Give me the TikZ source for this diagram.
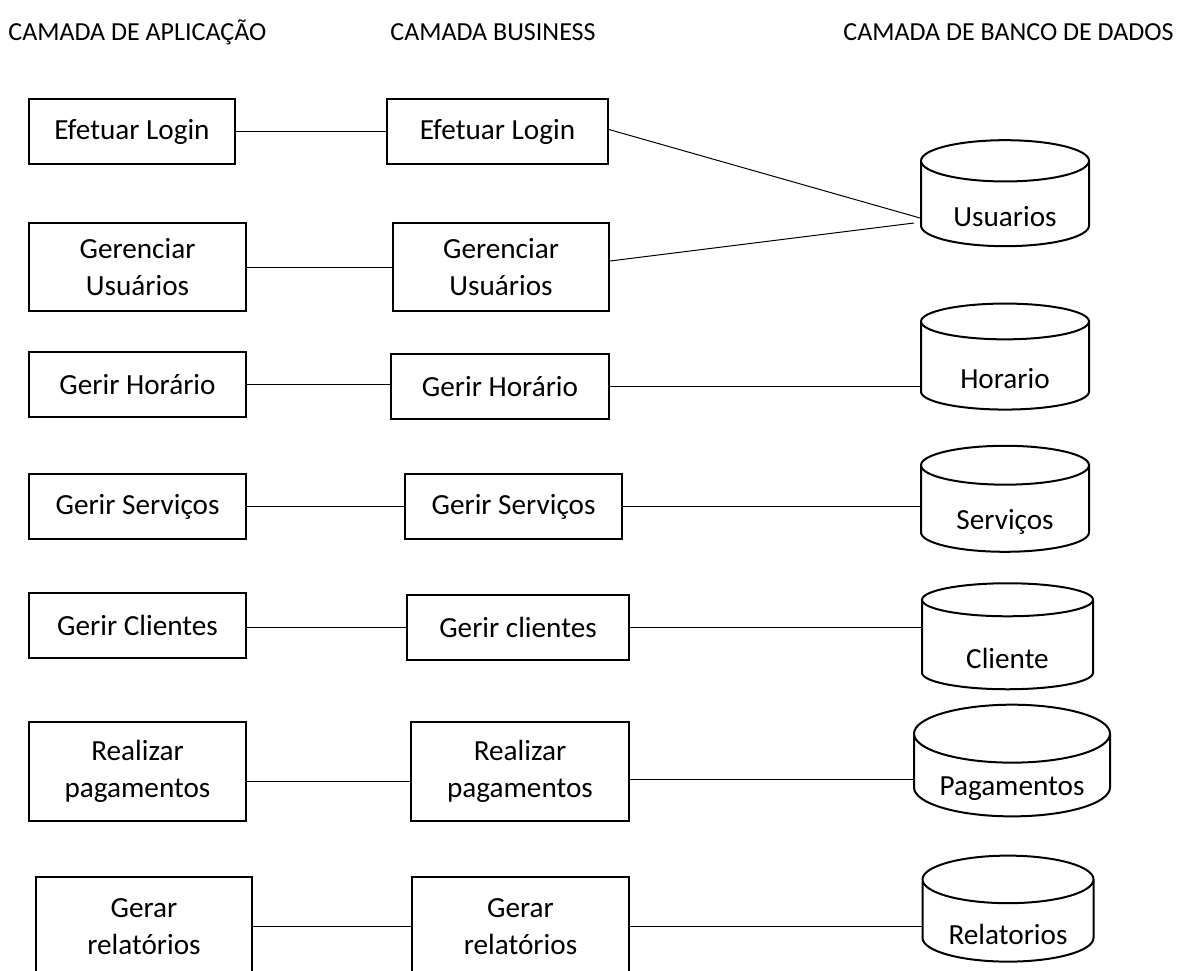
\documentclass[tikz,border=0pt]{standalone}
\usepackage{fontspec}
\setmainfont{Carlito}
\usetikzlibrary{shapes.geometric}

% texto do cilindro um pouco abaixo do centro
\newcommand{\dbtext}[1]{\raisebox{-6.5pt}[\height][\depth]{#1}}

\tikzset{
    layer/.style={anchor=west,inner sep=0pt,font=\fontsize{13}{15}\selectfont},
    funcbox/.style={draw,line width=1pt,rectangle,align=center,inner sep=0pt,
        font=\fontsize{14.6}{18.5}\selectfont},
    dbase/.style={draw,line width=1pt,cylinder,shape border rotate=90,aspect=0.4,
        inner sep=0pt,font=\fontsize{14.6}{18.5}\selectfont},
    conn/.style={line width=0.5pt}
}

\begin{document}
\begin{tikzpicture}[x=0.5pt,y=-0.5pt]
                \clip (0,0) rectangle (1186,970);
                % titulos das camadas
                \node[layer] (tapp) at (8,32) {CAMADA DE APLICAÇÃO};
                \node[layer] (tbiz) at (390,32) {CAMADA BUSINESS};
                \node[layer] (tdb) at (843,32) {CAMADA DE BANCO DE DADOS};
                % camada de aplicacao
                \node[funcbox,minimum width=103pt,minimum height=32.5pt] (al) at (132,131.5) {Efetuar Login};
                \node[funcbox,minimum width=108.5pt,minimum height=44pt] (au) at (137.5,267) {Gerenciar\\Usuários};
                \node[funcbox,minimum width=108.5pt,minimum height=32.5pt] (ah) at (137.5,384.5) {Gerir Horário};
                \node[funcbox,minimum width=108.5pt,minimum height=32.5pt] (as) at (137.5,506.5) {Gerir Serviços};
                \node[funcbox,minimum width=108.5pt,minimum height=32.5pt] (ac) at (137.5,625.5) {Gerir Clientes};
                \node[funcbox,minimum width=108.5pt,minimum height=49.5pt] (ap) at (137.5,771.5) {Realizar\\pagamentos};
                \node[funcbox,minimum width=108pt,minimum height=49.5pt] (ar) at (144,926.5) {Gerar\\relatórios};
                % camada business
                \node[funcbox,minimum width=110.5pt,minimum height=32.5pt] (bl) at (497.5,131.5) {Efetuar Login};
                \node[funcbox,minimum width=108pt,minimum height=44pt] (bu) at (501,267) {Gerenciar\\Usuários};
                \node[funcbox,minimum width=109pt,minimum height=32.5pt] (bh) at (500,386.5) {Gerir Horário};
                \node[funcbox,minimum width=108.5pt,minimum height=32.5pt] (bs) at (513.5,506.5) {Gerir Serviços};
                \node[funcbox,minimum width=111pt,minimum height=32.5pt] (bc) at (518,627.5) {Gerir clientes};
                \node[funcbox,minimum width=109pt,minimum height=49.5pt] (bp) at (520,771.5) {Realizar\\pagamentos};
                \node[funcbox,minimum width=108.5pt,minimum height=49.5pt] (br) at (520.5,926.5) {Gerar\\relatórios};
                % camada de banco de dados
                \node[dbase,minimum width=84pt,minimum height=53pt] (du) at (1005,204) {\dbtext{Usuarios}};
                \node[dbase,minimum width=84pt,minimum height=53pt] (dh) at (1005,366) {\dbtext{Horario}};
                \node[dbase,minimum width=84pt,minimum height=53pt] (ds) at (1005,509) {\dbtext{Serviços}};
                \node[dbase,minimum width=85.5pt,minimum height=53pt] (dc) at (1007.5,645) {\dbtext{Cliente}};
                \node[dbase,minimum width=98pt,minimum height=52.5pt] (dp) at (1012,775.5) {\dbtext{Pagamentos}};
                \node[dbase,minimum width=85.5pt,minimum height=53pt] (dr) at (1008,921) {\dbtext{Relatorios}};
                % ligacoes
                \draw[conn] (al) -- (bl);
                \draw[conn] (au) -- (bu);
                \draw[conn] (ah.east) -- (bh.west |- ah.east);
                \draw[conn] (as) -- (bs);
                \draw[conn] (ac.east |- bc.west) -- (bc.west);
                \draw[conn] ([yshift=-5pt]ap.east) -- ([yshift=-5pt]bp.west);
                \draw[conn] (ar) -- (br);
                \draw[conn] ([yshift=1pt]bl.east) -- ([yshift=-7pt]du.west);
                \draw[conn] ([yshift=3pt]bu.east) -- ([xshift=-3pt,yshift=-9.5pt]du.west);
                \draw[conn] (bh.east) -- (bh.east -| dh.west);
                \draw[conn] (bs.east) -- (bs.east -| ds.west);
                \draw[conn] (bc.east) -- (bc.east -| dc.west);
                \draw[conn] ([yshift=-4pt]bp.east) -- ([yshift=-4pt]bp.east -| dp.west);
                \draw[conn] (br.east) -- (br.east -| dr.west);
            \end{tikzpicture}
\end{document}
